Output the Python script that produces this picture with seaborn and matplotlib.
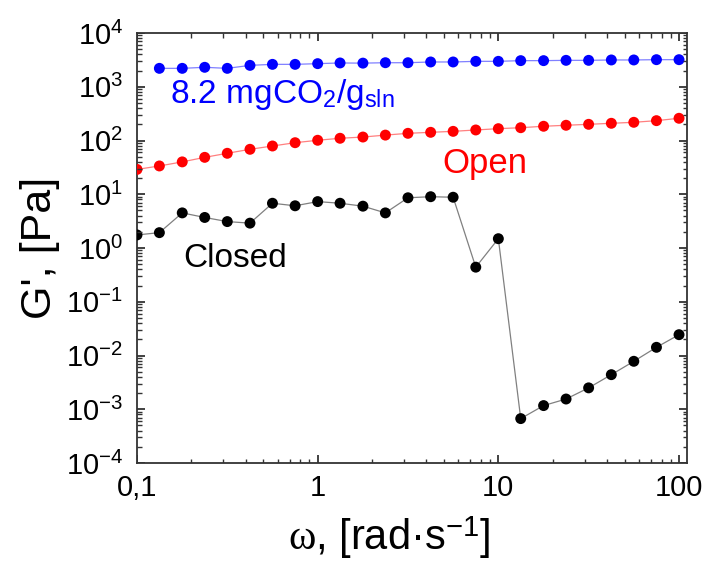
import matplotlib
matplotlib.use("Agg")
import matplotlib.pyplot as plt
import matplotlib.ticker as mticker
from matplotlib.collections import LineCollection
import seaborn as sns
import pandas as pd

# ---- data ----
omega = [0.1, 0.133, 0.178, 0.237, 0.316, 0.422, 0.562, 0.75, 1.0, 1.33, 1.78,
         2.37, 3.16, 4.22, 5.62, 7.5, 10.0, 13.3, 17.8, 23.7, 31.6, 42.2, 56.2,
         75.0, 100.0]
omega_blue = omega[1:]
g_blue = [2200, 2200, 2300, 2200, 2500, 2610, 2610, 2690, 2770, 2750, 2800,
          2800, 2890, 2890, 2970, 2970, 3060, 3060, 3100, 3100, 3150, 3150,
          3190, 3190]
g_open = [29, 33.6, 40, 48.6, 57.8, 68.6, 79, 91, 101, 110, 116, 126, 136,
          142, 148, 157, 166, 173, 184, 192, 200, 209, 218, 234, 259]
g_closed = [1.75, 1.93, 4.5, 3.7, 3.1, 2.9, 6.8, 6.1, 7.3, 6.8, 6.0, 4.5,
            8.6, 9.0, 8.8, 0.44, 1.49, 6.7e-4, 1.17e-3, 1.55e-3, 2.5e-3,
            4.4e-3, 7.8e-3, 0.0142, 0.0244]

xtick_vals = [0.1, 1, 10, 100]
xtick_labels = ["0,1", "1", "10", "100"]
ytick_exps = [-4, -3, -2, -1, 0, 1, 2, 3, 4]
minor_subs = [2, 3, 4, 5, 6, 7, 8, 9]

df_blue = pd.DataFrame({"w": omega_blue, "g": g_blue})
df_open = pd.DataFrame({"w": omega, "g": g_open})
df_closed = pd.DataFrame({"w": omega, "g": g_closed})

XMIN, XMAX, YMIN, YMAX = 0.1, 110.7, 1e-4, 1e4

sns.set_style("ticks")
rc = plt.rcParams
rc["font.family"] = ["Liberation Sans", "DejaVu Sans"]
rc["mathtext.fontset"] = "custom"
rc["mathtext.rm"] = "Liberation Serif"
rc["mathtext.it"] = "Liberation Serif:italic"
rc["mathtext.sf"] = "Liberation Sans"
rc["axes.labelcolor"] = "black"
for a in ("xtick", "ytick"):
    rc[a + ".direction"] = "in"
    rc[a + ".color"] = "#333333"
    rc[a + ".labelcolor"] = "black"
    rc[a + ".labelsize"] = 21
    rc[a + ".major.size"] = 0
    rc[a + ".minor.size"] = 0
rc["xtick.major.pad"] = 8
rc["ytick.major.pad"] = 10

fig = plt.figure(figsize=(7.1, 5.64), dpi=100)
ax = fig.add_axes([137 / 710, 1 - 463 / 564, 550 / 710, 430 / 564])

series = [
    (df_blue, "#0000FF", "#8080FF"),
    (df_open, "#FF0000", "#FF8080"),
    (df_closed, "#000000", "#808080"),
]
for d, mc, lc in series:
    sns.lineplot(data=d, x="w", y="g", ax=ax, color=lc, lw=0.9,
                 estimator=None, sort=False, legend=False, zorder=2)
    sns.scatterplot(data=d, x="w", y="g", ax=ax, color=mc, s=62,
                    edgecolor="none", legend=False, zorder=3)

ax.set_xscale("log")
ax.set_yscale("log")

x_minor = [s * 10.0 ** e for e in [-1, 0, 1, 2] for s in minor_subs]
y_major = [10.0 ** e for e in ytick_exps]
y_minor = [s * 10.0 ** e for e in ytick_exps for s in minor_subs]
ax.xaxis.set_major_locator(mticker.FixedLocator(xtick_vals))
ax.xaxis.set_major_formatter(mticker.FixedFormatter(xtick_labels))
ax.xaxis.set_minor_locator(mticker.NullLocator())
ax.yaxis.set_major_locator(mticker.FixedLocator(y_major))
ax.yaxis.set_major_formatter(mticker.FixedFormatter(
    [r"$\mathdefault{10^{%d}}$" % e for e in ytick_exps]))
ax.yaxis.set_minor_locator(mticker.NullLocator())

# inward tick marks on all four sides, placed through the axis transforms
xt = ax.get_xaxis_transform()
yt = ax.get_yaxis_transform()
tick_color = "#333333"
xmaj_in = [v for v in xtick_vals if XMIN <= v <= XMAX]
xmin_in = [v for v in x_minor if XMIN <= v <= XMAX]
ymin_in = [v for v in y_minor if YMIN <= v <= YMAX]
for vals, L, w in ((xmaj_in, 8 / 430, 1.3), (xmin_in, 4.5 / 430, 1.0)):
    segs = [[(v, 0), (v, L)] for v in vals] + [[(v, 1 - L), (v, 1)] for v in vals]
    ax.add_collection(LineCollection(segs, transform=xt, colors=tick_color,
                                     linewidths=w, zorder=5), autolim=False)
for vals, L, w in ((y_major, 8 / 550, 1.3), (ymin_in, 4.5 / 550, 1.0)):
    segs = [[(0, v), (L, v)] for v in vals] + [[(1 - L, v), (1, v)] for v in vals]
    ax.add_collection(LineCollection(segs, transform=yt, colors=tick_color,
                                     linewidths=w, zorder=5), autolim=False)

for sp in ax.spines.values():
    sp.set_color("#333333")
    sp.set_linewidth(1.3)

ax.set_xlabel(r"$\mathrm{\omega}$, [rad·s$^{\mathdefault{-1}}$]", fontsize=30)
ax.set_ylabel("G', [Pa]", fontsize=31)
ax.xaxis.set_label_coords(0.458, -0.12)
ax.yaxis.set_label_coords(-0.14, 0.5)

ax.text(0.152, 490, r"8.2 mgCO$_{\mathdefault{2}}$/g$_{\mathdefault{sln}}$",
        color="#0000FF", fontsize=24, ha="left", va="baseline")
ax.text(4.93, 24.5, "Open", color="#FF0000", fontsize=25, ha="left", va="baseline")
ax.text(0.180, 0.449, "Closed", color="#000000", fontsize=24, ha="left", va="baseline")

ax.set_xlim(XMIN, XMAX)
ax.set_ylim(YMIN, YMAX)

fig.savefig("out.png", dpi=100)
